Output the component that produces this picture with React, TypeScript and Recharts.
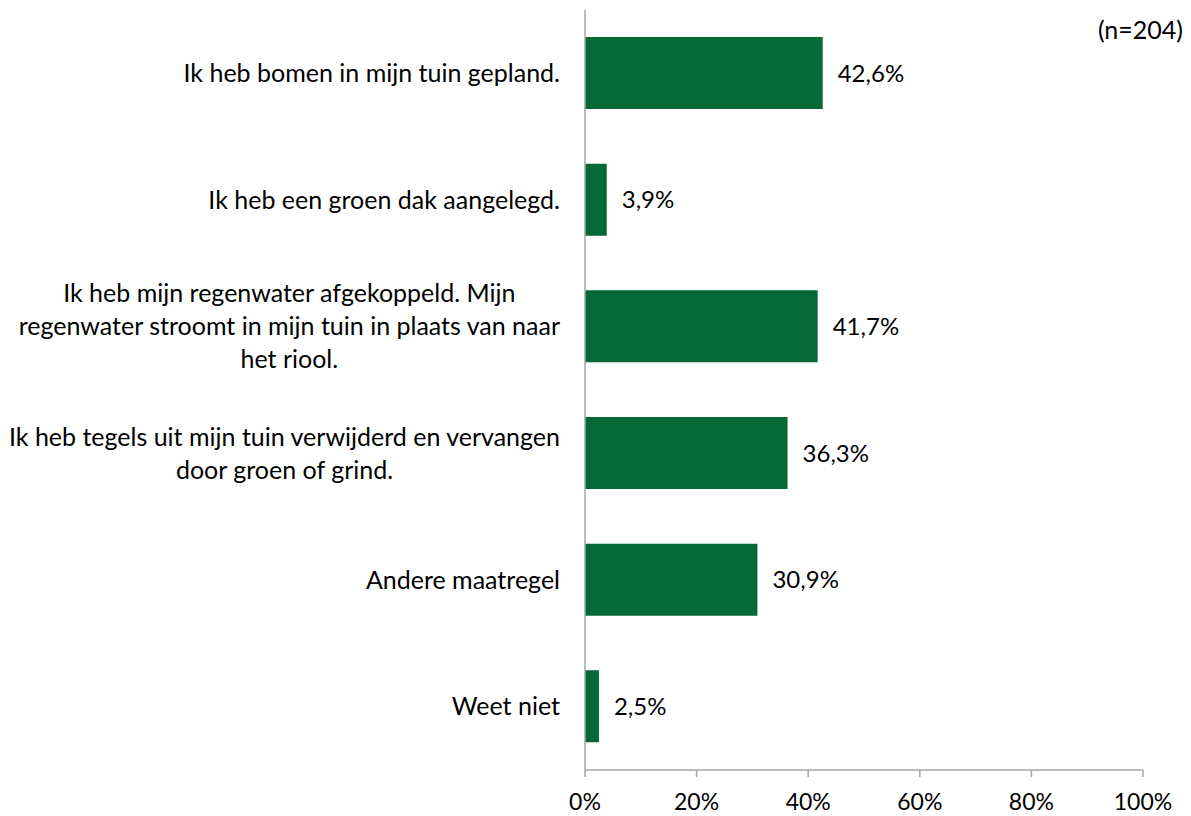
import { useLayoutEffect, useRef, useState } from 'react'
import { BarChart, Bar, XAxis, YAxis, LabelList } from 'recharts'

const categories = [
  'Ik heb bomen in mijn tuin gepland.',
  'Ik heb een groen dak aangelegd.',
  'Ik heb mijn regenwater afgekoppeld. Mijn\nregenwater stroomt in mijn tuin in plaats van naar\nhet riool.',
  'Ik heb tegels uit mijn tuin verwijderd en vervangen\ndoor groen of grind.',
  'Andere maatregel',
  'Weet niet',
]
const values = [42.6, 3.9, 41.7, 36.3, 30.9, 2.5]
const xTicks = [0, 20, 40, 60, 80, 100]

const data = categories.map((name, i) => ({ name, value: values[i] }))

const FONT = 'Lato, sans-serif'
const LINE_H = 33

// multi-line labels are centred on each other, block is right-aligned to the axis
function CategoryTick(props: any) {
  const { x, y, payload } = props
  const ref = useRef<SVGTextElement>(null)
  const [w, setW] = useState(0)
  const lines = String(payload.value).split('\n')

  useLayoutEffect(() => {
    if (ref.current) setW(ref.current.getBBox().width)
  }, [payload.value])

  const cx = x - 17 - w / 2
  const top = y - ((lines.length - 1) * LINE_H) / 2
  return (
    <text ref={ref} x={cx} y={top} textAnchor="middle" fill="#000" fontSize={25} fontFamily={FONT}>
      {lines.map((l, i) => (
        <tspan key={i} x={cx} y={top + i * LINE_H} dy="0.35em">
          {l}
        </tspan>
      ))}
    </text>
  )
}

export default function App() {
  return (
    <div style={{ position: 'absolute', left: 0, top: 0, width: 1191, height: 816, background: '#fff' }}>
      <BarChart
        width={1191}
        height={816}
        data={data}
        layout="vertical"
        margin={{ top: 10, right: 48, left: 0, bottom: 0 }}
      >
        <XAxis
          type="number"
          domain={[0, 100]}
          ticks={xTicks}
          tickFormatter={(v: number) => `${v}%`}
          axisLine={{ stroke: '#a6a6a6', strokeWidth: 1.5 }}
          tickLine={{ stroke: '#a6a6a6', strokeWidth: 1.5 }}
          tickSize={7}
          tickMargin={17}
          height={46}
          tick={{ fill: '#000', fontSize: 23, fontFamily: FONT }}
          interval={0}
        />
        <YAxis
          type="category"
          dataKey="name"
          width={585}
          axisLine={{ stroke: '#a6a6a6', strokeWidth: 1.5 }}
          tickLine={false}
          tick={<CategoryTick />}
          interval={0}
        />
        <Bar dataKey="value" fill="#056937" barSize={72} isAnimationActive={false}>
          <LabelList
            dataKey="value"
            position="right"
            offset={15}
            formatter={(v: any) => `${String(v).replace('.', ',')}%`}
            style={{ fill: '#000', fontSize: 24, fontFamily: FONT }}
          />
        </Bar>
      </BarChart>
      <div
        style={{
          position: 'absolute',
          right: 8,
          top: 14,
          fontFamily: FONT,
          fontSize: 25,
          color: '#000',
        }}
      >
        (n=204)
      </div>
    </div>
  )
}
